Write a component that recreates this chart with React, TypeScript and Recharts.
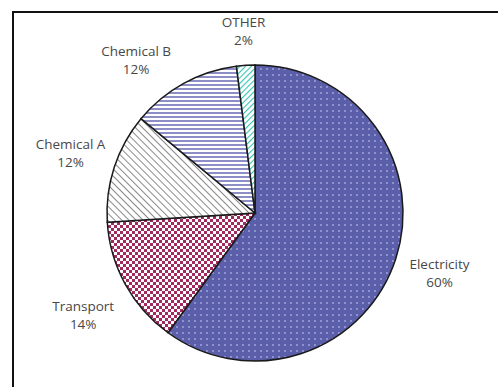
import React from "react";
import { PieChart, Pie, Cell } from "recharts";

// --- Data ---
const sectors = ["Electricity", "Transport", "Chemical A", "Chemical B", "OTHER"];
const shares = [60, 14, 12, 12, 2];
const fills = ["url(#dots)", "url(#checks)", "url(#diag)", "url(#hstripes)", "url(#teal)"];

const data = sectors.map((name, i) => ({ name, value: shares[i] }));

const RADIAN = Math.PI / 180;

// small angle tweaks so labels clear their neighbours
const labelNudge: Record<string, number> = { "Chemical B": 9, Transport: 2 };

const renderLabel = (props: any) => {
  const { cx, cy, midAngle, outerRadius, name, value } = props;
  const angle = midAngle + (labelNudge[name] || 0);
  const r = outerRadius + (name === "OTHER" ? 34 : name === "Transport" ? 52 : 46);
  const x = cx + r * Math.cos(-angle * RADIAN);
  const y = cy + r * Math.sin(-angle * RADIAN);
  return (
    <text
      x={x}
      y={y}
      textAnchor="middle"
      fill="#474747"
      fontSize={13.5}
      fontFamily="'Open Sans', sans-serif"
    >
      <tspan x={x} dy={-4}>{name}</tspan>
      <tspan x={x} dy={18}>{value}%</tspan>
    </text>
  );
};

export default function App() {
  return (
    <div style={{ position: "relative", width: 498, height: 387, overflow: "hidden", background: "#fff" }}>
      <style>{"body{margin:0}"}</style>
      {/* outer frame */}
      <div
        style={{
          position: "absolute",
          left: 12,
          top: 11,
          width: 600,
          height: 600,
          border: "2px solid #111",
          boxSizing: "border-box",
        }}
      />
      <div style={{ position: "absolute", left: 0, top: 0 }}>
        <PieChart width={498} height={387} margin={{ top: 0, right: 0, bottom: 0, left: 0 }}>
          <defs>
            <pattern id="dots" width="6" height="6" patternUnits="userSpaceOnUse">
              <rect width="6" height="6" fill="#5b5ea8" />
              <circle cx="3" cy="3" r="0.9" fill="#a8aae0" />
            </pattern>
            <pattern id="checks" width="6" height="6" patternUnits="userSpaceOnUse">
              <rect width="6" height="6" fill="#a1295d" />
              <rect width="3" height="3" fill="#fff" />
              <rect x="3" y="3" width="3" height="3" fill="#fff" />
            </pattern>
            <pattern id="diag" width="5" height="5" patternUnits="userSpaceOnUse" patternTransform="rotate(-45)">
              <rect width="5" height="5" fill="#fff" />
              <line x1="0" y1="0" x2="0" y2="5" stroke="#8a8a8a" strokeWidth="2" />
            </pattern>
            <pattern id="hstripes" width="4" height="4" patternUnits="userSpaceOnUse">
              <rect width="4" height="4" fill="#fff" />
              <line x1="0" y1="1" x2="4" y2="1" stroke="#8d8ec6" strokeWidth="2" />
            </pattern>
            <pattern id="teal" width="4" height="4" patternUnits="userSpaceOnUse" patternTransform="rotate(45)">
              <rect width="4" height="4" fill="#fff" />
              <line x1="0" y1="0" x2="0" y2="4" stroke="#33c3b3" strokeWidth="2.2" />
            </pattern>
          </defs>
          <Pie
            data={data}
            dataKey="value"
            nameKey="name"
            cx={255}
            cy={213}
            outerRadius={148}
            startAngle={90}
            endAngle={-270}
            stroke="#1a1a1a"
            strokeWidth={1.5}
            labelLine={false}
            label={renderLabel}
            isAnimationActive={false}
          >
            {data.map((d, i) => (
              <Cell key={d.name} fill={fills[i]} />
            ))}
          </Pie>
        </PieChart>
      </div>
    </div>
  );
}
